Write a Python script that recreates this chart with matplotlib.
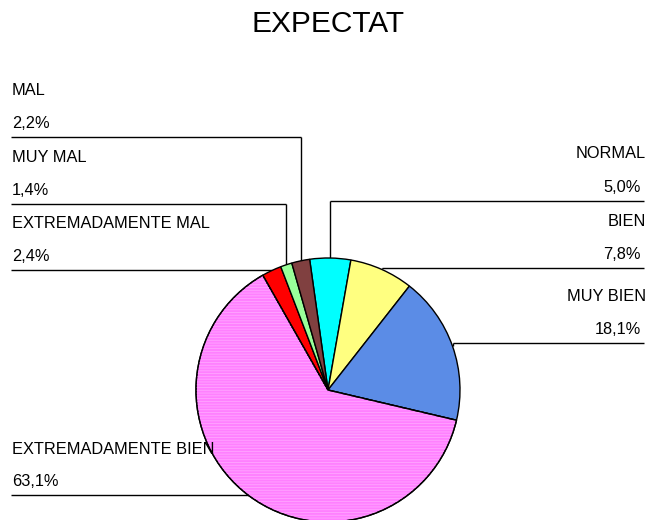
import numpy as np
import matplotlib
matplotlib.use("Agg")
import matplotlib.pyplot as plt
from matplotlib.patches import Wedge

plt.rcParams["font.family"] = ["Liberation Sans", "DejaVu Sans"]
plt.rcParams["hatch.linewidth"] = 0.6

# Slices in clockwise order, starting just left of 12 o'clock
categories = ["NORMAL", "BIEN", "MUY BIEN", "EXTREMADAMENTE BIEN",
              "EXTREMADAMENTE MAL", "MUY MAL", "MAL"]
values = [5.0, 7.8, 18.1, 63.1, 2.4, 1.4, 2.2]
pct_labels = ["5,0%", "7,8%", "18,1%", "63,1%", "2,4%", "1,4%", "2,2%"]
colors = ["#00FFFF", "#FFFF80", "#5B8CE6", "#FF80FF",
          "#FF0000", "#99FF99", "#804040"]

# Label block placement: side and vertical position of the underline (px from top)
label_side = ["right", "right", "right", "left", "left", "left", "left"]
label_line_y = [201, 268.3, 343.3, 495, 270, 204, 136.7]

W, H = 651, 520
fig = plt.figure(figsize=(W / 100, H / 100), dpi=100)
ax = fig.add_axes([0, 0, 1, 1])


def Y(y):
    return H - y


cx, cy, r = 328, 390, 132
wedges, _ = ax.pie(values, colors=colors, startangle=98, counterclock=False,
                   center=(cx, Y(cy)), radius=r,
                   wedgeprops=dict(edgecolor="black", linewidth=1.0))
for w in wedges:
    w.set_zorder(3)

# faint horizontal striping over the large pink slice
big = wedges[3]
stripes = Wedge(big.center, big.r, big.theta1, big.theta2, facecolor="none",
                edgecolor="#FFA6FF", hatch="------", linewidth=0, zorder=3.5)
ax.add_patch(stripes)
outline = Wedge(big.center, big.r, big.theta1, big.theta2, facecolor="none",
                edgecolor="black", linewidth=1.0, zorder=3.6)
ax.add_patch(outline)

ax.set_xlim(0, W)
ax.set_ylim(0, H)
ax.set_aspect("equal")
ax.axis("off")

for w, name, pct, side, ly in zip(wedges, categories, pct_labels,
                                   label_side, label_line_y):
    mid = np.deg2rad((w.theta1 + w.theta2) / 2)
    mx = w.center[0] + w.r * np.cos(mid)
    my = w.center[1] + w.r * np.sin(mid)
    x_end = 644 if side == "right" else 11
    ax.plot([x_end, mx], [Y(ly), Y(ly)], color="black", lw=1.0, zorder=2,
            solid_capstyle="butt")
    ax.plot([mx, mx], [Y(ly), my], color="black", lw=1.0, zorder=2,
            solid_capstyle="butt")
    if side == "right":
        ax.text(646, Y(ly - 47), name, ha="right", va="center",
                fontsize=11.8, zorder=4)
        ax.text(641, Y(ly - 13.5), pct, ha="right", va="center",
                fontsize=11.8, zorder=4)
    else:
        ax.text(12, Y(ly - 46), name, ha="left", va="center",
                fontsize=11.8, zorder=4)
        ax.text(12, Y(ly - 13.5), pct, ha="left", va="center",
                fontsize=11.8, zorder=4)

ax.text(327.5, Y(24), "EXPECTAT", ha="center", va="center", fontsize=21.5)

fig.savefig("out.png", dpi=100, facecolor="white")
